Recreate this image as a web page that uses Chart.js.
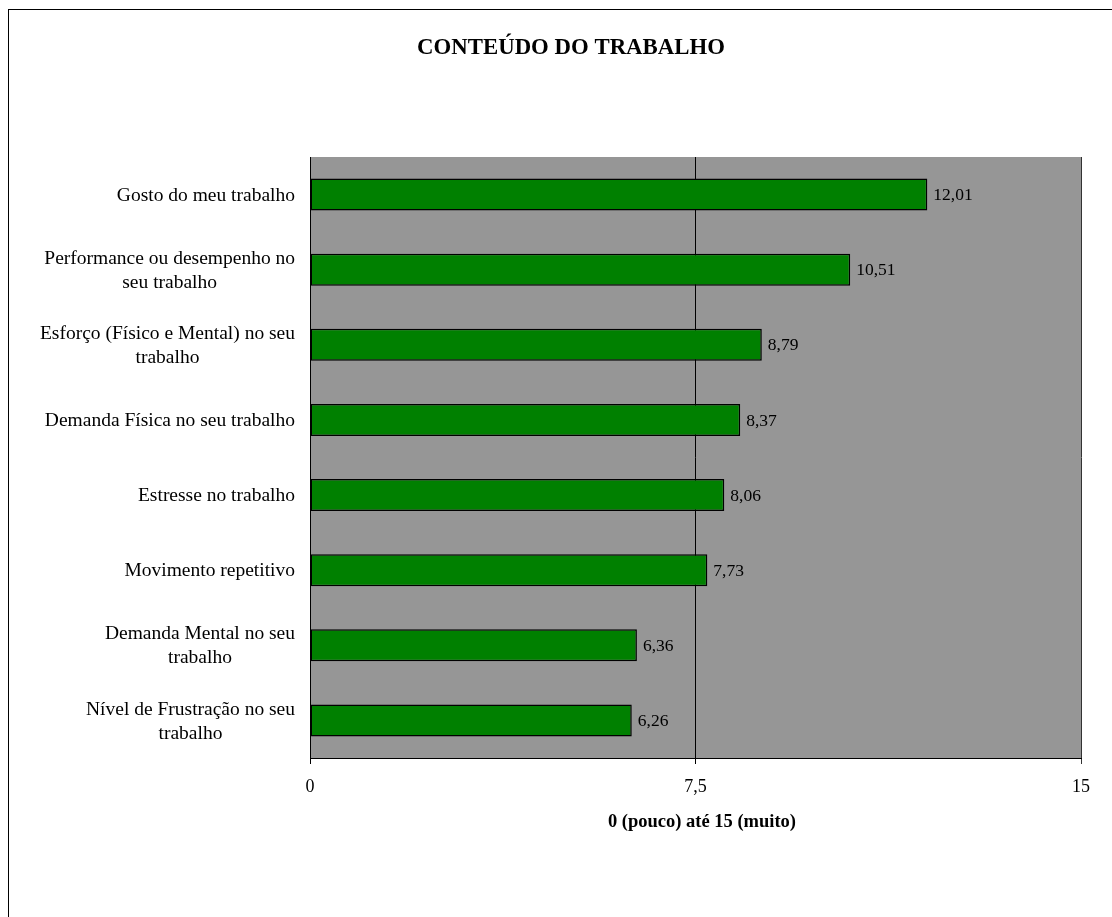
<!DOCTYPE html>
<html>
<head>
<meta charset="utf-8">
<script src="https://cdn.jsdelivr.net/npm/chart.js@4/dist/chart.umd.min.js"></script>
<style>
  body { margin: 0; background: #fff; }
  #wrap { width: 1112px; height: 917px; }
</style>
</head>
<body>
<div id="wrap"><canvas id="myChart" width="1112" height="917"></canvas></div>
<script>
// categories, top to bottom
const categories = [
    ['Gosto do meu trabalho'],
    ['Performance ou desempenho no', 'seu trabalho'],
    ['Esforço (Físico e Mental) no seu', 'trabalho'],
    ['Demanda Física no seu trabalho'],
    ['Estresse no trabalho'],
    ['Movimento repetitivo'],
    ['Demanda Mental no seu', 'trabalho'],
    ['Nível de Frustração no seu', 'trabalho']
];
const values = [12.01, 10.51, 8.79, 8.37, 8.06, 7.73, 6.36, 6.26];
const xTicks = [0, 7.5, 15];
const xTickLabels = ['0', '7,5', '15'];
const chartTitle = 'CONTEÚDO DO TRABALHO';
const xTitle = '0 (pouco) até 15 (muito)';

const serif = '"Liberation Serif", "Times New Roman", serif';

function fmt(v){
    return v.toFixed(2).replace('.', ',');
}

// frame, titles, category labels and value labels
const decorPlugin = {
    id: 'decor',
    beforeDraw(chart){
        const ctx = chart.ctx;
        const a = chart.chartArea;
        ctx.save();
        ctx.fillStyle = '#969696';
        ctx.fillRect(a.left, a.top, a.right - a.left, a.bottom - a.top);
        ctx.strokeStyle = '#000';
        ctx.lineWidth = 1;
        ctx.strokeRect(8.5, 9.5, 1130, 930);
        ctx.restore();
    },
    afterDraw(chart){
        const ctx = chart.ctx;
        const a = chart.chartArea;
        const yScale = chart.scales.y;
        ctx.save();
        ctx.fillStyle = '#000';
        ctx.textBaseline = 'middle';

        ctx.font = 'bold 22.8px ' + serif;
        ctx.textAlign = 'center';
        ctx.fillText(chartTitle, 571, 48);

        ctx.font = 'bold 18.5px ' + serif;
        ctx.fillText(xTitle, 702, 822);

        ctx.font = '19.5px ' + serif;
        const lineH = 24;
        categories.forEach(function(lines, i){
            const cy = yScale.getPixelForValue(i) + 1;
            let maxW = 0;
            lines.forEach(function(l){ maxW = Math.max(maxW, ctx.measureText(l).width); });
            const cx = a.left - 15 - maxW / 2;
            const y0 = cy - (lines.length - 1) * lineH / 2;
            lines.forEach(function(l, j){
                ctx.fillText(l, cx, y0 + j * lineH);
            });
        });

        ctx.font = '17.5px ' + serif;
        ctx.textAlign = 'left';
        const meta = chart.getDatasetMeta(0);
        meta.data.forEach(function(bar, i){
            ctx.fillText(fmt(values[i]), bar.x + 6, bar.y + 1);
        });
        ctx.restore();
    }
};

const barChartConfig = {
    type: 'bar',
    data: {
        labels: categories,
        datasets: [{
            data: values,
            backgroundColor: '#008000',
            borderColor: '#000',
            borderWidth: 1.5,
            borderSkipped: false,
            categoryPercentage: 0.82,
            barPercentage: 0.52
        }]
    },
    plugins: [decorPlugin],
    options: {
        indexAxis: 'y',
        responsive: false,
        animation: false,
        layout: { padding: { top: 157, right: 31, left: 0, bottom: 0 } },
        plugins: {
            legend: { display: false },
            tooltip: { enabled: false },
            title: { display: false }
        },
        scales: {
            x: {
                type: 'linear',
                min: 0,
                max: 15,
                afterFit: function(s){ s.height = 159; },
                afterBuildTicks: function(s){
                    s.ticks = xTicks.map(function(v){ return { value: v }; });
                },
                ticks: {
                    color: '#000',
                    font: { family: serif, size: 18 },
                    padding: 12,
                    maxRotation: 0,
                    callback: function(v){
                        const i = xTicks.indexOf(v);
                        return i >= 0 ? xTickLabels[i] : '';
                    }
                },
                grid: {
                    color: function(c){ return c.tick && c.tick.value === 15 ? '#333' : '#000'; },
                    lineWidth: 1,
                    tickLength: 6,
                    drawTicks: true
                },
                border: { display: true, color: '#000', width: 1 }
            },
            y: {
                afterFit: function(s){ s.width = 310; },
                ticks: { display: false },
                grid: { display: false },
                border: { display: true, color: '#000', width: 1 }
            }
        }
    }
};

const chartCtx = document.getElementById('myChart').getContext('2d');
const myChart = new Chart(chartCtx, barChartConfig);
</script>
</body>
</html>
